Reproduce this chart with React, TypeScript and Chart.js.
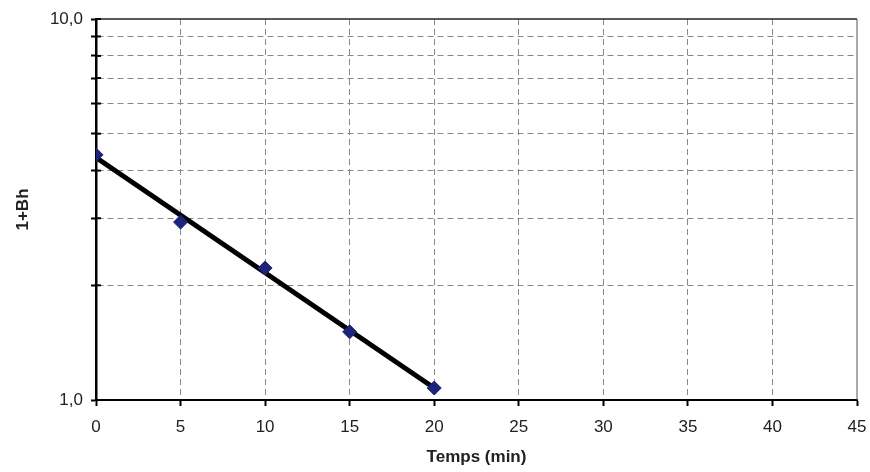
import React, { useEffect, useRef } from "react";
import { Chart, registerables } from "chart.js";

Chart.register(...registerables);

const timeMin = [0, 5, 10, 15, 20];
const oneBh = [4.4, 2.93, 2.22, 1.51, 1.075];
const trendX = [0, 20];
const trendY = [4.33, 1.075];
const xTicks = [0, 5, 10, 15, 20, 25, 30, 35, 40, 45];
const yTicks = [1, 2, 3, 4, 5, 6, 7, 8, 9, 10];
const yLabels: Record<number, string> = { 1: "1,0", 10: "10,0" };

const frame = {
  id: "frame",
  afterDatasetsDraw(chart: any) {
    const { ctx, chartArea } = chart;
    const ys = chart.scales.y;
    ctx.save();
    ctx.setLineDash([]);
    ctx.strokeStyle = "#222";
    ctx.lineWidth = 1.5;
    ctx.beginPath();
    ctx.moveTo(chartArea.left, chartArea.top);
    ctx.lineTo(chartArea.right, chartArea.top);
    ctx.stroke();
    ctx.strokeStyle = "#555";
    ctx.lineWidth = 1;
    ctx.beginPath();
    ctx.moveTo(chartArea.right, chartArea.top);
    ctx.lineTo(chartArea.right, chartArea.bottom);
    ctx.stroke();
    ctx.strokeStyle = "#000";
    ctx.lineWidth = 2;
    for (const t of ys.ticks) {
      const py = ys.getPixelForValue(t.value);
      ctx.beginPath();
      ctx.moveTo(chartArea.left, py);
      ctx.lineTo(chartArea.left + 5, py);
      ctx.stroke();
    }
    ctx.restore();
  },
};

export default function App() {
  const ref = useRef<HTMLCanvasElement>(null);
  useEffect(() => {
    if (!ref.current) return;
    const chart = new Chart(ref.current, {
      type: "scatter",
      data: {
        datasets: [
          {
            label: "1+Bh",
            data: timeMin.map((x, i) => ({ x, y: oneBh[i] })),
            backgroundColor: "#1c2378",
            borderColor: "#1c2378",
            pointStyle: "rectRot",
            pointRadius: 7,
            showLine: false,
          },
          {
            label: "trend",
            data: trendX.map((x, i) => ({ x, y: trendY[i] })),
            showLine: true,
            borderColor: "#000",
            borderWidth: 5,
            pointRadius: 0,
          },
        ],
      },
      plugins: [frame],
      options: {
        responsive: false,
        animation: false,
        layout: { padding: { left: 9, top: 19, right: 13, bottom: 0 } },
        plugins: { legend: { display: false }, tooltip: { enabled: false } },
        scales: {
          x: {
            type: "linear",
            min: 0,
            max: 45,
            afterBuildTicks: (s: any) => {
              s.ticks = xTicks.map((v) => ({ value: v }));
            },
            afterFit: (s: any) => {
              s.height = 72;
              s.paddingRight = 0;
              s.paddingLeft = 0;
            },
            ticks: {
              color: "#222",
              font: { family: "Liberation Sans", size: 17 },
              padding: 11,
              autoSkip: false,
              maxRotation: 0,
            },
            grid: {
              color: (c: any) => (c.tick && (c.tick.value === 0 || c.tick.value === 45) ? "rgba(0,0,0,0)" : "#888"),
              lineWidth: 1,
              tickColor: "#000",
              tickLength: 6,
              tickWidth: 2,
            },
            border: { color: "#000", width: 2, dash: [6, 4] },
            title: {
              display: true,
              text: "Temps (min)",
              color: "#222",
              font: { family: "Liberation Sans", size: 17, weight: "bold" },
            },
          },
          y: {
            type: "logarithmic",
            min: 1,
            max: 10,
            afterBuildTicks: (s: any) => {
              s.ticks = yTicks.map((v) => ({ value: v }));
            },
            afterFit: (s: any) => {
              s.width = 87;
            },
            ticks: {
              color: "#222",
              font: { family: "Liberation Sans", size: 17 },
              padding: 8,
              autoSkip: false,
              callback: (v: any) => yLabels[Number(v)] ?? "",
            },
            grid: {
              color: (c: any) => (c.tick && (c.tick.value === 1 || c.tick.value === 10) ? "rgba(0,0,0,0)" : "#888"),
              lineWidth: 1,
              tickColor: "#000",
              tickLength: 5,
              tickWidth: 2,
            },
            border: { color: "#000", width: 2.5, dash: [6, 4] },
            title: {
              display: true,
              text: "1+Bh",
              color: "#222",
              font: { family: "Liberation Sans", size: 17, weight: "bold" },
            },
          },
        },
      },
    });
    return () => chart.destroy();
  }, []);
  return (
    <div style={{ position: "fixed", left: 0, top: 0, width: 870, height: 472, background: "#fff" }}>
      <canvas ref={ref} width={870} height={472} />
    </div>
  );
}
